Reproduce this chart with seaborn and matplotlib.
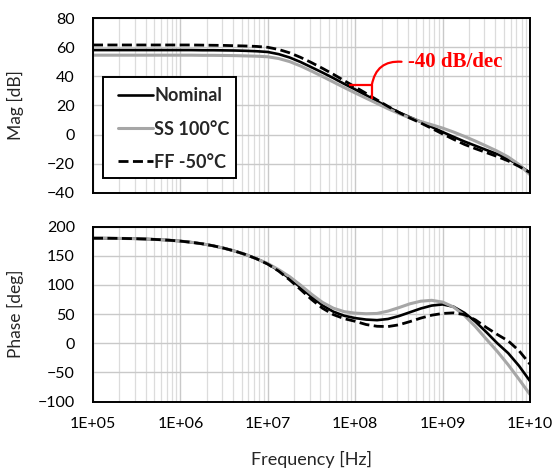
import numpy as np
import pandas as pd
import matplotlib
matplotlib.use("Agg")
import matplotlib.pyplot as plt
from matplotlib.ticker import FixedLocator, FuncFormatter, LogLocator, NullFormatter
from matplotlib.patches import Rectangle
from matplotlib.lines import Line2D
import seaborn as sns

# Frequency sample points, in decades (Hz = 10**decade), 1/8-decade spacing
decades = [5.0, 5.125, 5.25, 5.375, 5.5, 5.625, 5.75, 5.875,
           6.0, 6.125, 6.25, 6.375, 6.5, 6.625, 6.75, 6.875,
           7.0, 7.125, 7.25, 7.375, 7.5, 7.625, 7.75, 7.875,
           8.0, 8.125, 8.25, 8.375, 8.5, 8.625, 8.75, 8.875,
           9.0, 9.125, 9.25, 9.375, 9.5, 9.625, 9.75, 9.875, 10.0]

series_names = ["Nominal", "SS 100°C", "FF -50°C"]

# Loop-gain magnitude [dB]
mag_nominal = [58.0, 58.0, 58.0, 58.0, 58.0, 58.0, 58.0, 58.0,
               58.0, 58.0, 57.9, 57.9, 57.8, 57.7, 57.5, 57.2,
               56.7, 55.2, 52.9, 49.8, 46.2, 42.6, 38.8, 34.8,
               31.0, 27.0, 23.0, 19.0, 15.3, 12.0, 8.8, 5.3,
               1.8, -1.5, -4.7, -7.6, -10.5, -13.3, -16.6, -21.0, -26.2]
mag_ss = [54.5, 54.5, 54.5, 54.5, 54.5, 54.5, 54.5, 54.5,
          54.5, 54.5, 54.4, 54.4, 54.3, 54.2, 54.0, 53.8,
          53.4, 52.2, 50.1, 47.1, 43.6, 39.9, 36.1, 32.3,
          28.6, 25.0, 21.4, 17.8, 14.5, 11.5, 9.0, 6.8,
          4.5, 1.8, -1.2, -4.4, -7.8, -11.3, -15.3, -20.5, -27.5]
mag_ff = [61.5, 61.5, 61.5, 61.5, 61.5, 61.5, 61.5, 61.5,
          61.5, 61.5, 61.4, 61.3, 61.2, 61.0, 60.8, 60.5,
          59.9, 58.4, 56.1, 53.0, 49.4, 45.5, 41.4, 37.0,
          32.7, 28.3, 23.8, 19.4, 15.2, 11.4, 8.0, 4.3,
          0.5, -3.2, -6.7, -9.6, -12.3, -15.0, -18.0, -21.8, -26.0]

# Loop-gain phase [deg]
ph_nominal = [180, 180, 179.8, 179.5, 179.1, 178.5, 177.6, 176.5,
              175.0, 173.0, 170.4, 167.0, 162.8, 157.8, 151.8, 144.5,
              136.0, 124.5, 111.0, 95.5, 79.5, 65.0, 54.0, 47.0,
              43.0, 40.5, 39.5, 41.5, 46.5, 53.0, 59.5, 64.5,
              66.5, 62.5, 52.0, 37.0, 19.0, 0.0, -17.0, -39.0, -65.0]
ph_ss = [180, 180, 179.8, 179.5, 179.1, 178.5, 177.6, 176.5,
         175.0, 173.0, 170.4, 167.0, 162.8, 157.8, 151.8, 144.5,
         136.5, 126.0, 114.0, 99.5, 84.0, 70.0, 60.0, 54.0,
         51.5, 50.5, 51.0, 55.0, 61.0, 67.5, 72.0, 73.5,
         70.5, 62.0, 47.5, 28.5, 7.0, -14.0, -37.0, -62.0, -88.0]
ph_ff = [180, 180, 179.8, 179.5, 179.1, 178.5, 177.6, 176.5,
         175.0, 173.0, 170.4, 167.0, 162.8, 157.8, 151.8, 144.5,
         135.5, 123.5, 108.5, 92.0, 75.0, 60.0, 49.0, 42.0,
         37.5, 32.0, 29.0, 28.5, 31.5, 37.0, 43.0, 48.0,
         51.0, 52.0, 49.0, 40.0, 27.0, 15.0, 4.0, -13.0, -36.0]

mag_ticks = [-40, -20, 0, 20, 40, 60, 80]
phase_ticks = [-100, -50, 0, 50, 100, 150, 200]
freq_ticks = [1e5, 1e6, 1e7, 1e8, 1e9, 1e10]

freq = 10.0 ** np.array(decades)
mag_df = pd.DataFrame({"freq": np.tile(freq, 3),
                       "value": mag_nominal + mag_ss + mag_ff,
                       "series": np.repeat(series_names, len(freq))})
ph_df = pd.DataFrame({"freq": np.tile(freq, 3),
                      "value": ph_nominal + ph_ss + ph_ff,
                      "series": np.repeat(series_names, len(freq))})

sns.set_theme(style="white")
plt.rcParams["font.family"] = ["Lato", "DejaVu Sans"]

styles = {
    "Nominal": dict(color="black", lw=1.9, dashes=None),
    "SS 100°C": dict(color="#a6a6a6", lw=2.2, dashes=None),
    "FF -50°C": dict(color="black", lw=2.0, dashes=(3.6, 1.6)),
}

fig = plt.figure(figsize=(5.54, 4.70), dpi=100)
ax_mag = fig.add_axes([0.1679, 0.5894, 0.7888, 0.3723])
ax_ph = fig.add_axes([0.1679, 0.1457, 0.7888, 0.3723])


def draw_series(ax, df):
    for name in series_names:
        st = styles[name]
        sub = df[df["series"] == name]
        sns.lineplot(data=sub, x="freq", y="value", ax=ax, color=st["color"],
                     lw=st["lw"], legend=False, zorder=3)
        line = ax.lines[-1]
        if st["dashes"] is not None:
            line.set_dashes(st["dashes"])
        line.set_solid_capstyle("butt")
        line.set_dash_capstyle("butt")
        line.set_solid_joinstyle("round")


def style_axes(ax, yticks):
    ax.set_xscale("log")
    ax.set_xlim(1e5, 1e10)
    ax.set_ylim(yticks[0], yticks[-1])
    ax.yaxis.set_major_locator(FixedLocator(yticks))
    ax.xaxis.set_major_locator(FixedLocator(freq_ticks))
    ax.xaxis.set_minor_locator(LogLocator(base=10, subs=np.arange(2, 10), numticks=100))
    ax.xaxis.set_minor_formatter(NullFormatter())
    ax.grid(True, which="major", color="#c9c9c9", lw=1.0, zorder=0)
    ax.grid(True, which="minor", axis="x", color="#dcdcdc", lw=0.9, zorder=0)
    ax.set_axisbelow(True)
    for sp in ax.spines.values():
        sp.set_color("black")
        sp.set_linewidth(1.4)
        sp.set_zorder(5)
    ax.tick_params(axis="both", which="major", direction="in", length=4,
                   width=1.2, color="black", labelsize=11.5, labelcolor="black")
    ax.tick_params(axis="y", pad=13)
    ax.tick_params(axis="x", pad=11)
    ax.tick_params(which="minor", length=0)


draw_series(ax_mag, mag_df)
draw_series(ax_ph, ph_df)
style_axes(ax_mag, mag_ticks)
style_axes(ax_ph, phase_ticks)

ax_mag.tick_params(axis="x", labelbottom=False)
ax_ph.xaxis.set_major_formatter(FuncFormatter(lambda v, p: f"1E+{int(round(np.log10(v))):02d}"))

ax_mag.set_xlabel("")
ax_mag.set_ylabel("Mag [dB]", fontsize=12.5)
ax_ph.set_ylabel("Phase [deg]", fontsize=12.5)
ax_ph.set_xlabel("Frequency [Hz]", fontsize=13)
ax_mag.yaxis.set_label_coords(-0.158, 0.5)
ax_ph.yaxis.set_label_coords(-0.158, 0.5)
ax_ph.xaxis.set_label_coords(0.5, -0.285)

# Legend with a square black frame
ax_mag.add_patch(Rectangle((0.023, 0.085), 0.305, 0.575, transform=ax_mag.transAxes,
                           fill=True, facecolor="white", edgecolor="black",
                           lw=1.4, zorder=6))
handles = []
for name in series_names:
    st = styles[name]
    h = Line2D([], [], color=st["color"], lw=st["lw"])
    if st["dashes"] is not None:
        h.set_dashes(st["dashes"])
    handles.append(h)
leg = ax_mag.legend(handles, series_names, loc="upper left",
                    bbox_to_anchor=(0.045, 0.635), frameon=False,
                    prop={"weight": "bold", "size": 13}, handlelength=1.95,
                    handletextpad=0.05, labelspacing=0.9, borderpad=0.3,
                    borderaxespad=0)
leg.set_zorder(7)

# -40 dB/dec slope marker
x0, x1 = 10 ** 7.93, 10 ** 8.19
ax_mag.plot([x0, x1], [34, 34], color="red", lw=1.6, zorder=4, solid_capstyle="butt")
ax_mag.plot([x1, x1], [34, 24.5], color="red", lw=1.6, zorder=4, solid_capstyle="butt")
ax_mag.annotate("", xy=(x1, 34), xytext=(10 ** 8.53, 50),
                arrowprops=dict(arrowstyle="-", color="red", lw=1.6,
                                connectionstyle="arc3,rad=0.45",
                                shrinkA=0, shrinkB=0), zorder=4)
ax_mag.text(10 ** 8.6, 50, "-40 dB/dec", color="red", fontsize=15,
            fontweight="bold", family=["Liberation Serif", "DejaVu Serif"],
            ha="left", va="center", zorder=4)

fig.savefig("out.png", dpi=100)
